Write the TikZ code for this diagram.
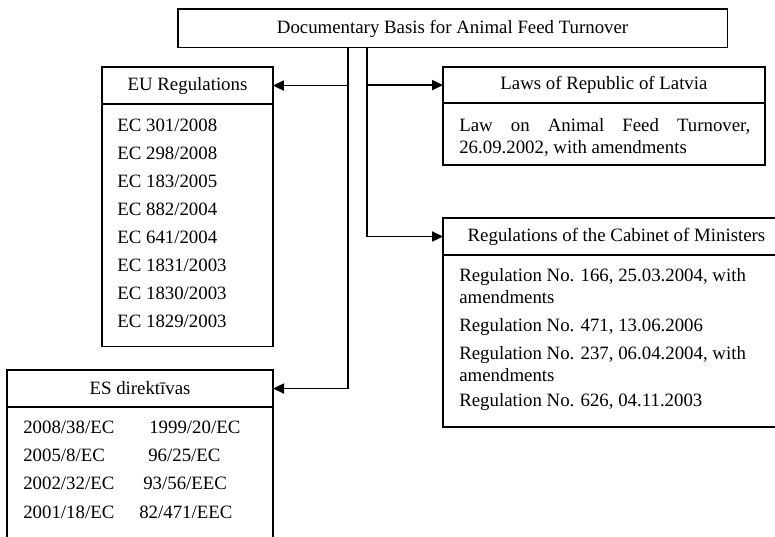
\documentclass[tikz,border=0pt]{standalone}
\usepackage{fontspec}
\setmainfont{Liberation Serif}
\usetikzlibrary{arrows.meta}

\begin{document}
\begin{tikzpicture}[x=0.0224cm,y=-0.0224cm,
box/.style={draw,line width=0.8pt,outer sep=0pt,inner sep=0pt,anchor=north west,
  font=\fontsize{12}{14}\selectfont},
item/.style={inner sep=0pt,anchor=west,align=left,font=\fontsize{12}{13.8}\selectfont},
feed/.style={line width=0.8pt,-{Triangle[length=7pt,width=6.5pt]}}]
 \useasboundingbox (0,0) rectangle (775,536);

 \begin{scope}
  \node[box,minimum width=12.30cm,minimum height=0.87cm] (basis) at (178,9)
   {Documentary Basis for Animal Feed Turnover};
  \node[box,minimum width=3.83cm,minimum height=0.83cm] (euHead) at (102,67) {EU Regulations};
  \node[box,minimum width=3.83cm,minimum height=5.44cm] (euBody) at (102,104) {};
  \node[box,minimum width=7.21cm,minimum height=0.81cm] (lawHead) at (443,67) {Laws of Republic of Latvia};
  \node[box,minimum width=7.21cm,minimum height=1.39cm] (lawBody) at (443,103) {};
  \node[box,minimum width=7.77cm,minimum height=0.83cm] (regHead) at (443,218)
   {Regulations of the Cabinet of Ministers};
  \node[box,minimum width=7.77cm,minimum height=3.85cm] (regBody) at (443,255) {};
  \node[box,minimum width=5.96cm,minimum height=0.83cm] (esHead) at (7,370) {ES direktīvas};
  \node[box,minimum width=5.96cm,minimum height=3.43cm] (esBody) at (7,407) {};
 \end{scope}
 %
 \foreach\t [count=\i] in {EC 301/2008,EC 298/2008,EC 183/2005,EC 882/2004,
   EC 641/2004,EC 1831/2003,EC 1830/2003,EC 1829/2003}
  {\node[item] (eu\i) at (117,{125+28.1*(\i-1)}) {\t};}
 \node[item,anchor=north west,text width=6.52cm,align=justify] (law1) at (459,118)
  {Law on Animal Feed Turnover, 26.09.2002, with amendments};
 \node[item] (reg1) at (459,286) {Regulation No. 166, 25.03.2004, with\\amendments};
 \node[item] (reg2) at (459,327) {Regulation No. 471, 13.06.2006};
 \node[item] (reg3) at (459,364) {Regulation No. 237, 06.04.2004, with\\amendments};
 \node[item] (reg4) at (459,402) {Regulation No. 626, 04.11.2003};
 \foreach\t [count=\i] in {2008/38/EC,2005/8/EC,2002/32/EC,2001/18/EC}
  {\node[item] (esA\i) at (23,{427+28.3*(\i-1)}) {\t};}
 \foreach\x/\t [count=\i] in {149/{1999/20/EC},148/{96/25/EC},143/{93/56/EEC},139/{82/471/EEC}}
  {\node[item] (esB\i) at (\x,{427+28.3*(\i-1)}) {\t};}
 %
 \coordinate (trunkL) at (348,0);
 \coordinate (trunkR) at (367,0);
 \draw[feed] (basis.south -| trunkL) |- (esHead.east);
 \draw[feed] (trunkL |- euHead.east) -- (euHead.east);
 \draw[feed] (basis.south -| trunkR) |- (regHead.west);
 \draw[feed] (trunkR |- lawHead.west) -- (lawHead.west);
\end{tikzpicture}
\end{document}
